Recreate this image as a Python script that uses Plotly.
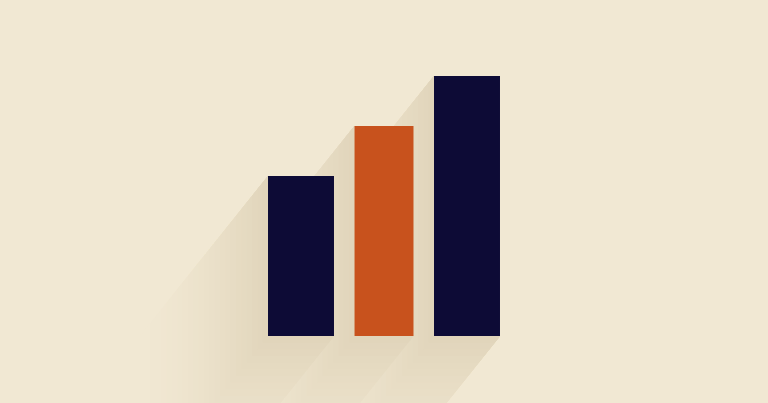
import plotly.graph_objects as go

# bar data
positions=[0,1,2]
values=[3.2,4.2,5.2]
widths=[0.795,0.71,0.795]
colors=['#0d0b36','#c8521d','#0d0b36']

BG=(241,232,211)
SHADOW=(225,213,187)
PXX=83.0   # px per x unit
PXY=50.0   # px per y unit
X0PX=301.0
Y0PX=336.0

def shadow_path(L):
    # long shadow down-left, length L px
    dx=-0.8*L/PXX
    dy=-L/PXY
    parts=[]
    for p,v,w in zip(positions,values,widths):
        x0,x1=p-w/2,p+w/2
        pts=[(x0,v),(x1,v),(x1,0),(x1+dx,dy),(x0+dx,dy),(x0+dx,v+dy)]
        parts.append('M '+' L '.join(f'{a:.4f},{b:.4f}' for a,b in pts)+' Z')
    return ' '.join(parts)

def mix(f):
    return 'rgb({},{},{})'.format(*[round(b+(s-b)*f) for b,s in zip(BG,SHADOW)])

shapes=[]
N=24
LMAX=160
for i in range(N):
    # far -> near, opaque layers getting darker
    L=LMAX*(1-i/N)
    f=(1-(L-LMAX/N)/LMAX)**1.6
    shapes.append(dict(type='path',path=shadow_path(L),xref='x',yref='y',layer='below',
        fillcolor=mix(f),line=dict(width=0)))

fig=go.Figure(go.Bar(x=positions,y=values,width=widths,marker=dict(color=colors,line=dict(width=0)),
    hoverinfo='skip',showlegend=False))

W,H=768,403
fig.update_layout(width=W,height=H,margin=dict(l=0,r=0,t=0,b=0),
    paper_bgcolor=mix(0),plot_bgcolor=mix(0),shapes=shapes,showlegend=False,
    xaxis=dict(range=[-X0PX/PXX,(W-X0PX)/PXX],visible=False,fixedrange=True),
    yaxis=dict(range=[-(H-Y0PX)/PXY,Y0PX/PXY],visible=False,fixedrange=True))
fig.write_html("out.html",config=dict(displayModeBar=False),
    post_script="document.body.style.margin='0';document.body.style.overflow='hidden';")
